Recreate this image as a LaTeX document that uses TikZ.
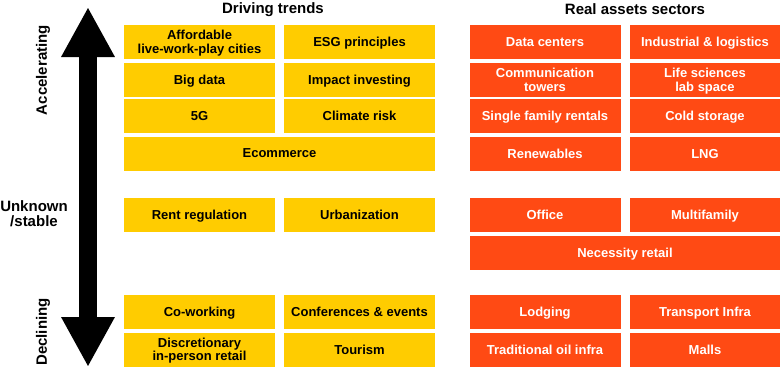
\documentclass[tikz,border=0pt]{standalone}
\usepackage{fontspec}
\setmainfont{Liberation Sans}
\usetikzlibrary{arrows.meta}
\definecolor{trendyellow}{HTML}{FFCC00}
\definecolor{assetred}{HTML}{FF4A14}

\begin{document}
\begin{tikzpicture}[x=1pt, y=-1pt, node distance=160pt,
  trend/.style={fill=trendyellow, minimum width=151pt, minimum height=34pt, inner sep=0pt, align=center,
    font=\bfseries\fontsize{13}{13.5}\selectfont, text depth=0pt},
  asset/.style={trend, fill=assetred, text=white},
  wide/.style={minimum width=311pt},
  title/.style={font=\bfseries\fontsize{15}{16}\selectfont},
  axislabel/.style={font=\bfseries\fontsize{15}{15}\selectfont, align=center}]
\useasboundingbox (0,0) rectangle (780,370);
% titles
\node (dt)[title] at (273,10) {Driving trends};
\node (ra)[title] at (635,9) {Real assets sectors};
% driving trends
\node (afford)[trend] at (199.5,42) {Affordable\\live-work-play cities};
\node (esg)[trend] [right of = afford] {ESG principles};
\node (bigdata)[trend] at (199.5,80) {Big data};
\node (impact)[trend] [right of = bigdata] {Impact investing};
\node (fiveg)[trend] at (199.5,115.5) {5G};
\node (climate)[trend] [right of = fiveg] {Climate risk};
\node (ecom)[trend, wide] at (279.5,153.5) {Ecommerce};
\node (rent)[trend] at (199.5,215) {Rent regulation};
\node (urban)[trend] [right of = rent] {Urbanization};
\node (cowork)[trend] at (199.5,311.5) {Co-working};
\node (conf)[trend] [right of = cowork] {Conferences \& events};
\node (discr)[trend] at (199.5,349.5) {Discretionary\\in-person retail};
\node (tourism)[trend] [right of = discr] {Tourism};
% real assets sectors
\node (datacen)[asset] at (545,42) {Data centers};
\node (indus)[asset] [right of = datacen] {Industrial \& logistics};
\node (comm)[asset] at (545,80) {Communication\\towers};
\node (life)[asset] [right of = comm] {Life sciences\\lab space};
\node (single)[asset] at (545,115.5) {Single family rentals};
\node (cold)[asset] [right of = single] {Cold storage};
\node (renew)[asset] at (545,153.5) {Renewables};
\node (lng)[asset] [right of = renew] {LNG};
\node (office)[asset] at (545,215) {Office};
\node (multi)[asset] [right of = office] {Multifamily};
\node (necess)[asset, wide] at (625,252.5) {Necessity retail};
\node (lodging)[asset] at (545,311.5) {Lodging};
\node (transp)[asset] [right of = lodging] {Transport Infra};
\node (oil)[asset] at (545,349.5) {Traditional oil infra};
\node (malls)[asset] [right of = oil] {Malls};
% axis
\coordinate (up) at (88,7);
\coordinate (down) at (88,367);
\draw[line width=18pt, {Triangle[width=50pt,length=50pt]}-{Triangle[width=50pt,length=50pt]}] (up) -- (down);
\node (acc)[axislabel, rotate=90] at (43,70) {Accelerating};
\node (stable)[axislabel] at (34,214) {Unknown\\/stable};
\node (decl)[axislabel, rotate=90] at (43,332) {Declining};
\end{tikzpicture}
\end{document}
